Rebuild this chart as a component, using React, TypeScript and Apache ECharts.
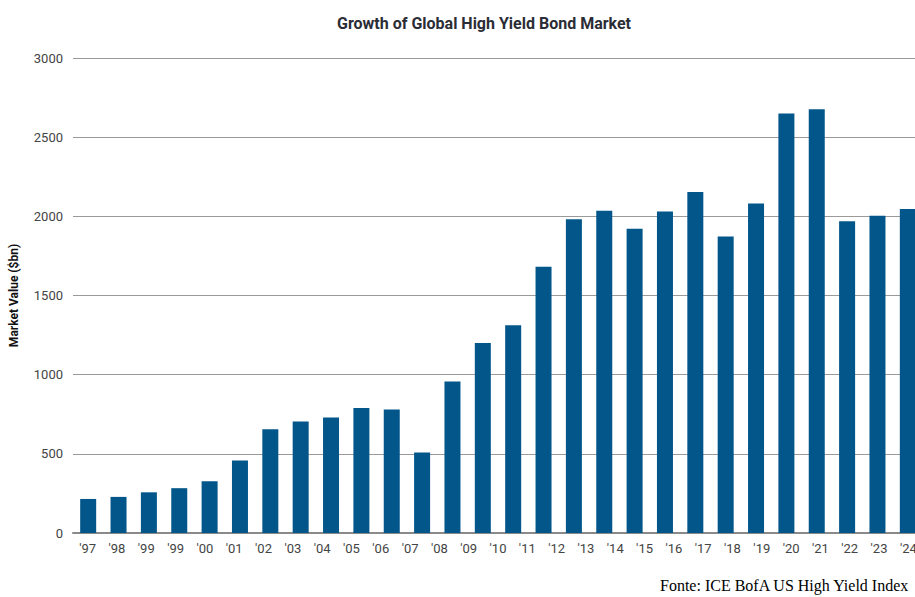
import React, { useEffect, useRef } from "react";
import * as echarts from "echarts";

const years = [
  "1997", "1998", "1999", "2000", "2001", "2002", "2003", "2004", "2005", "2006",
  "2007", "2008", "2009", "2010", "2011", "2012", "2013", "2014", "2015", "2016",
  "2017", "2018", "2019", "2020", "2021", "2022", "2023", "2024",
];
const marketValue = [
  215, 228, 257, 283, 327, 458, 656, 704, 730, 789,
  780, 508, 957, 1200, 1312, 1682, 1982, 2036, 1921, 2030,
  2153, 1872, 2081, 2650, 2677, 1969, 2003, 2047,
];
const tickLabels = [
  "'97", "'98", "'99", "'99", "'00", "'01", "'02", "'03", "'04", "'05",
  "'06", "'07", "'08", "'09", "'10", "'11", "'12", "'13", "'14", "'15",
  "'16", "'17", "'18", "'19", "'20", "'21", "'22", "'23", "'24",
];
const yTicks = [0, 500, 1000, 1500, 2000, 2500, 3000];

const TITLE = "Growth of Global High Yield Bond Market";
const Y_NAME = "Market Value ($bn)";
const SOURCE = "Fonte: ICE BofA US High Yield Index";

export default function App() {
  const ref = useRef<HTMLDivElement>(null);
  useEffect(() => {
    if (!ref.current) return;
    const chart = echarts.init(ref.current, null, { renderer: "svg" });
    chart.setOption({
      animation: false,
      backgroundColor: "#ffffff",
      title: {
        text: TITLE,
        left: 332,
        top: 10,
        textStyle: {
          fontFamily: "Roboto",
          fontSize: 16,
          fontWeight: "bold",
          color: "#2b2d36",
        },
      },
      grid: { left: 72, right: 0, top: 58, bottom: 64, containLabel: false },
      xAxis: [
        {
          type: "category",
          data: years,
          position: "bottom",
          boundaryGap: true,
          axisLine: { show: true, lineStyle: { color: "#8a8a8a", width: 2 } },
          axisTick: { show: false },
          axisLabel: { show: false },
          splitLine: { show: false },
        },
        {
          type: "category",
          data: tickLabels,
          position: "bottom",
          boundaryGap: true,
          axisLine: { show: false },
          axisTick: { show: false },
          axisLabel: {
            show: true,
            interval: 0,
            margin: 9,
            fontFamily: "Roboto",
            fontSize: 13,
            color: "#444444",
          },
          splitLine: { show: false },
        },
      ],
      yAxis: {
        type: "value",
        min: yTicks[0],
        max: yTicks[yTicks.length - 1],
        interval: 500,
        name: Y_NAME,
        nameLocation: "middle",
        nameGap: 53,
        nameTextStyle: {
          fontFamily: "Roboto",
          fontSize: 12,
          fontWeight: "bold",
          color: "#111111",
        },
        axisLine: { show: false },
        axisTick: { show: false },
        axisLabel: {
          margin: 10,
          fontFamily: "Roboto",
          fontSize: 13,
          color: "#444444",
          formatter: (v: number) => String(v),
        },
        splitLine: { show: true, lineStyle: { color: "#9a9a9a", width: 1 } },
      },
      series: [
        {
          type: "bar",
          xAxisIndex: 0,
          data: marketValue,
          barWidth: 16,
          itemStyle: { color: "#02568a" },
        },
      ],
      graphic: [
        {
          type: "text",
          left: 660,
          top: 577,
          style: {
            text: SOURCE,
            fontFamily: "Liberation Serif",
            fontSize: 16,
            fill: "#000000",
          },
        },
      ],
    });
    return () => chart.dispose();
  }, []);
  return (
    <div
      style={{
        position: "absolute",
        left: 0,
        top: 0,
        width: 915,
        height: 597,
        overflow: "hidden",
      }}
    >
      <div ref={ref} style={{ width: 923, height: 597 }} />
    </div>
  );
}
